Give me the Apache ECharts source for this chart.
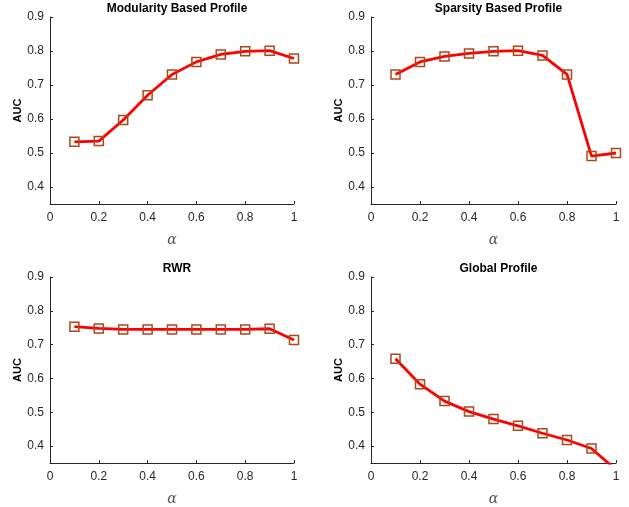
<!DOCTYPE html>
<html>
<head>
<meta charset="utf-8">
<script src="https://cdn.jsdelivr.net/npm/echarts@6/dist/echarts.min.js"></script>
<style>html,body{margin:0;padding:0;background:#fff}#c{width:629px;height:507px}</style>
</head>
<body>
<div id="c"></div>
<script>
const alphas = [0.1, 0.2, 0.3, 0.4, 0.5, 0.6, 0.7, 0.8, 0.9, 1.0];
const titles = ['Modularity Based Profile', 'Sparsity Based Profile', 'RWR', 'Global Profile'];
const modularity = [0.533, 0.535, 0.597, 0.670, 0.731, 0.768, 0.790, 0.799, 0.801, 0.778];
const sparsity = [0.731, 0.768, 0.784, 0.793, 0.799, 0.801, 0.787, 0.731, 0.491, 0.500];
const rwr = [0.753, 0.748, 0.745, 0.745, 0.745, 0.745, 0.745, 0.745, 0.747, 0.714];
const globalProfile = [0.658, 0.583, 0.533, 0.502, 0.480, 0.460, 0.438, 0.418, 0.393, 0.330];
const yTicks = [0.4, 0.5, 0.6, 0.7, 0.8, 0.9];
const xTicks = [0, 0.2, 0.4, 0.6, 0.8, 1];
const seriesData = [modularity, sparsity, rwr, globalProfile];

const grids = [
  {left: 50, top: 17, width: 244, height: 187},
  {left: 371, top: 17, width: 245, height: 187},
  {left: 50, top: 277, width: 244, height: 186},
  {left: 371, top: 277, width: 245, height: 186}
];
const axisColor = '#262626';
const font = 'Liberation Sans, Arial, sans-serif';

const option = {
  animation: false,
  backgroundColor: '#fff',
  title: titles.map((t, i) => ({
    text: t,
    left: grids[i].left + grids[i].width / 2,
    top: grids[i].top - 19,
    textAlign: 'center',
    textStyle: {fontFamily: font, fontSize: 12, fontWeight: 'bold', color: '#000'}
  })),
  grid: grids.map(g => Object.assign({containLabel: false}, g)),
  xAxis: grids.map((g, i) => ({
    type: 'value', gridIndex: i, min: 0, max: 1, interval: 0.2,
    name: 'α', nameLocation: 'middle', nameGap: 29,
    nameTextStyle: {fontFamily: 'DejaVu Serif, serif', fontStyle: 'italic', fontSize: 14, color: '#555'},
    axisLine: {show: true, lineStyle: {color: axisColor, width: 1}},
    axisTick: {show: true, inside: true, length: 3, lineStyle: {color: axisColor}, customValues: xTicks},
    axisLabel: {fontFamily: font, fontSize: 12, color: axisColor, margin: 8, customValues: xTicks,
      formatter: v => String(+v.toFixed(1))},
    splitLine: {show: false}
  })),
  yAxis: grids.map((g, i) => ({
    type: 'value', gridIndex: i, min: 0.35, max: 0.9,
    name: 'AUC', nameLocation: 'middle', nameGap: 27, nameRotate: 90,
    nameTextStyle: {fontFamily: font, fontSize: 11, fontWeight: 'bold', color: '#000'},
    axisLine: {show: true, lineStyle: {color: axisColor, width: 1}},
    axisTick: {show: true, inside: true, length: 3, lineStyle: {color: axisColor}, customValues: yTicks},
    axisLabel: {fontFamily: font, fontSize: 12, color: axisColor, margin: 6, customValues: yTicks,
      formatter: v => v.toFixed(1)},
    splitLine: {show: false}
  })),
  series: seriesData.map((d, i) => ({
    type: 'line', xAxisIndex: i, yAxisIndex: i,
    data: alphas.map((a, j) => [a, d[j]]),
    smooth: false,
    clip: true,
    symbol: 'rect', symbolSize: 9,
    lineStyle: {color: '#ff0000', width: 2.8},
    itemStyle: {color: 'rgba(255,255,255,0)', borderColor: '#a8481c', borderWidth: 1.5},
    z: 3
  }))
};
echarts.init(document.getElementById('c'), null, {renderer: 'canvas'}).setOption(option);
</script>
</body>
</html>
